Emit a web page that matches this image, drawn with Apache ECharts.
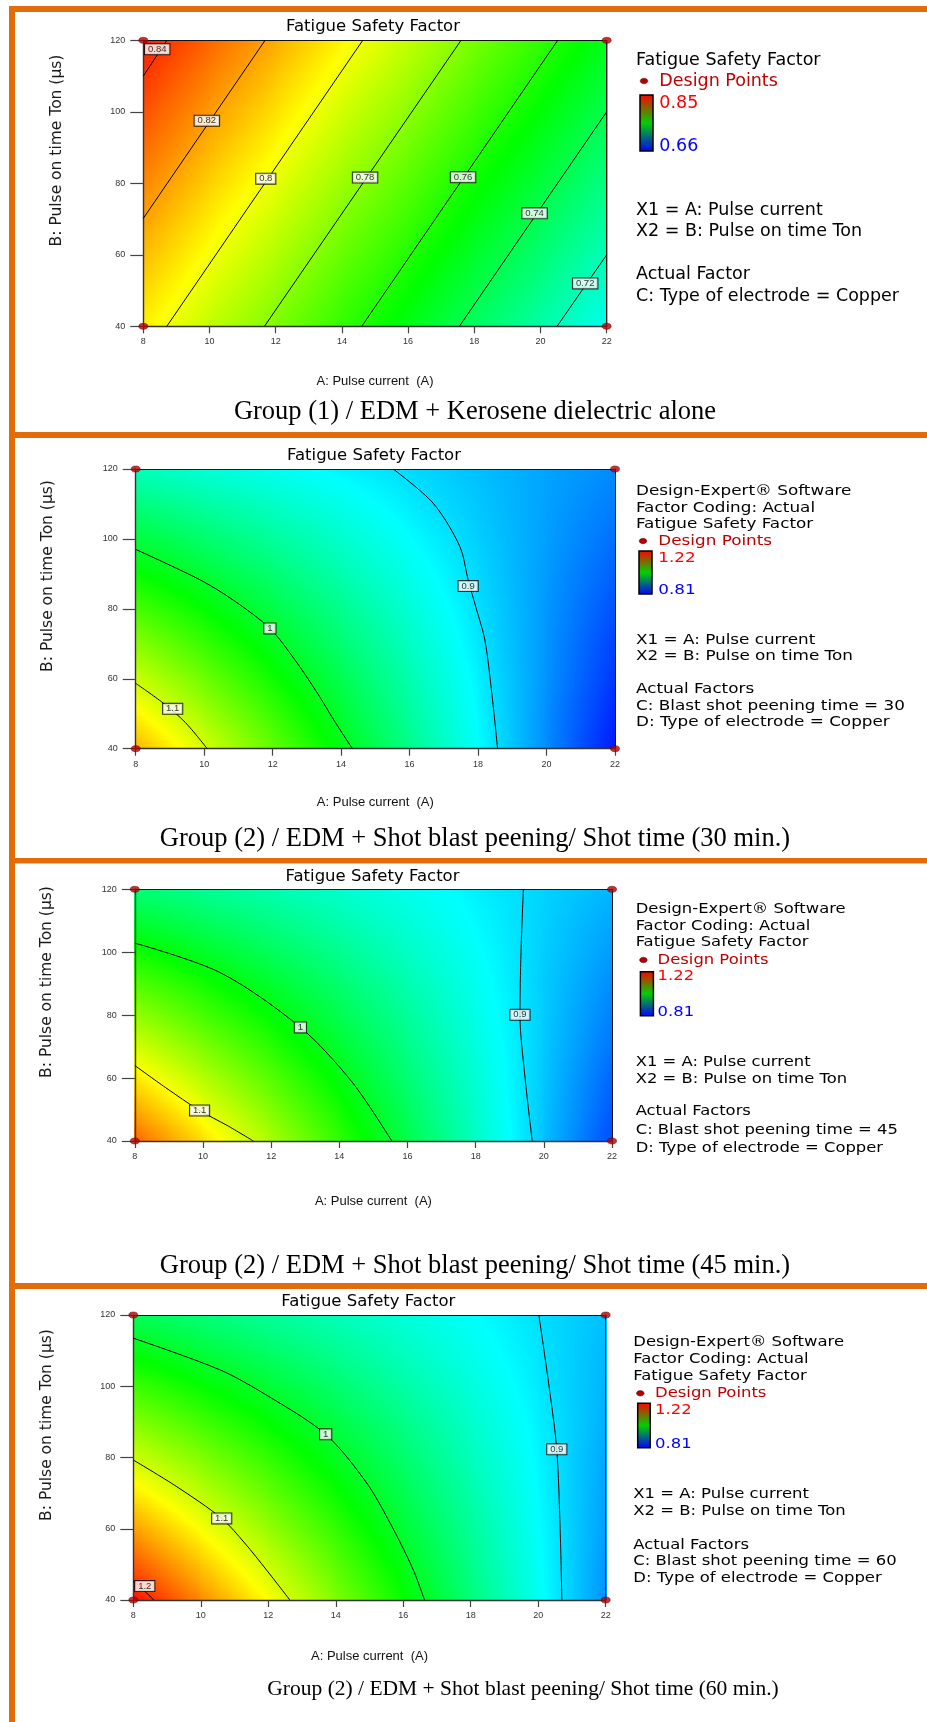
<!DOCTYPE html>
<html>
<head>
<meta charset="utf-8">
<title>Fatigue Safety Factor contour plots</title>
<script src="https://cdn.jsdelivr.net/npm/echarts@6.0.0/dist/echarts.min.js"></script>
<style>
  html, body { margin: 0; padding: 0; background: #ffffff; }
  #chart { width: 927px; height: 1722px; }
</style>
</head>
<body>
<div id="chart"></div>
<script>
// ---------------- data ----------------
// Grid nodes of the response surface
const pulseCurrent = [8, 10, 12, 14, 16, 18, 20, 22];          // A: Pulse current (A)
const pulseOnTime = [40, 50, 60, 70, 80, 90, 100, 110, 120];    // B: Pulse on time Ton (µs)

// Axis ticks
const currentTicks = [8, 10, 12, 14, 16, 18, 20, 22];
const onTimeTicks = [40, 60, 80, 100, 120];

// Design points (corners of the factor space)
const designPoints = [[8, 40], [8, 120], [22, 40], [22, 120]];

// Fatigue safety factor, one row per pulse-on time (40 µs first), one column per pulse current
const fsfKerosene = [
  [0.805, 0.791, 0.778, 0.764, 0.751, 0.737, 0.724, 0.710],
  [0.810, 0.796, 0.783, 0.769, 0.756, 0.742, 0.729, 0.715],
  [0.815, 0.801, 0.788, 0.774, 0.761, 0.747, 0.734, 0.720],
  [0.820, 0.806, 0.793, 0.779, 0.766, 0.752, 0.739, 0.725],
  [0.825, 0.811, 0.798, 0.784, 0.771, 0.757, 0.744, 0.730],
  [0.830, 0.816, 0.803, 0.789, 0.776, 0.762, 0.749, 0.735],
  [0.835, 0.821, 0.808, 0.794, 0.781, 0.767, 0.754, 0.740],
  [0.840, 0.826, 0.813, 0.799, 0.786, 0.772, 0.759, 0.745],
  [0.845, 0.831, 0.818, 0.804, 0.791, 0.777, 0.764, 0.750]
];
const fsfShot30 = [
  [1.149, 1.102, 1.055, 1.007, 0.960, 0.913, 0.866, 0.819],
  [1.123, 1.080, 1.038, 0.995, 0.952, 0.910, 0.867, 0.825],
  [1.097, 1.059, 1.021, 0.983, 0.945, 0.907, 0.869, 0.831],
  [1.071, 1.037, 1.004, 0.970, 0.937, 0.903, 0.870, 0.836],
  [1.044, 1.016, 0.987, 0.958, 0.929, 0.900, 0.871, 0.842],
  [1.018, 0.994, 0.970, 0.945, 0.921, 0.897, 0.872, 0.848],
  [0.992, 0.973, 0.953, 0.933, 0.913, 0.893, 0.874, 0.854],
  [0.966, 0.951, 0.936, 0.921, 0.905, 0.890, 0.875, 0.860],
  [0.940, 0.929, 0.919, 0.908, 0.898, 0.887, 0.876, 0.866]
];
const fsfShot45 = [
  [1.181, 1.132, 1.083, 1.034, 0.986, 0.937, 0.888, 0.839],
  [1.154, 1.110, 1.066, 1.022, 0.977, 0.933, 0.889, 0.845],
  [1.128, 1.088, 1.049, 1.009, 0.969, 0.930, 0.890, 0.850],
  [1.101, 1.066, 1.031, 0.996, 0.961, 0.926, 0.891, 0.856],
  [1.075, 1.044, 1.014, 0.983, 0.953, 0.922, 0.892, 0.861],
  [1.049, 1.023, 0.997, 0.971, 0.945, 0.919, 0.892, 0.866],
  [1.022, 1.001, 0.979, 0.958, 0.936, 0.915, 0.893, 0.872],
  [0.996, 0.979, 0.962, 0.945, 0.928, 0.911, 0.894, 0.877],
  [0.969, 0.957, 0.945, 0.932, 0.920, 0.907, 0.895, 0.883]
];
const fsfShot60 = [
  [1.215, 1.165, 1.116, 1.066, 1.017, 0.967, 0.917, 0.868],
  [1.186, 1.141, 1.096, 1.051, 1.006, 0.960, 0.915, 0.870],
  [1.157, 1.116, 1.075, 1.035, 0.994, 0.954, 0.913, 0.873],
  [1.127, 1.091, 1.055, 1.019, 0.983, 0.947, 0.911, 0.875],
  [1.098, 1.067, 1.035, 1.003, 0.972, 0.940, 0.909, 0.877],
  [1.069, 1.042, 1.015, 0.988, 0.961, 0.934, 0.907, 0.880],
  [1.040, 1.017, 0.995, 0.972, 0.949, 0.927, 0.904, 0.882],
  [1.010, 0.992, 0.974, 0.956, 0.938, 0.920, 0.902, 0.884],
  [0.981, 0.968, 0.954, 0.941, 0.927, 0.914, 0.900, 0.887]
];

// Colour-scale limits (observed response range)
const rangeKerosene = [0.66, 0.85];
const rangeShot = [0.81, 1.22];

// Contour lines: level, path in (A, B), label anchor in (A, B)
const contoursKerosene = [
  { level: '0.84', path: [[8, 110.0], [8.71, 120]], tag: [8.42, 117.5] },
  { level: '0.82', path: [[8, 70.2], [11.68, 120]], tag: [9.92, 97.5] },
  { level: '0.8', path: [[8.71, 40], [14.63, 120]], tag: [11.70, 81.3] },
  { level: '0.78', path: [[11.66, 40], [17.60, 120]], tag: [14.70, 81.6] },
  { level: '0.76', path: [[14.60, 40], [20.52, 120]], tag: [17.66, 81.7] },
  { level: '0.74', path: [[17.55, 40], [22, 100.0]], tag: [19.82, 71.6] },
  { level: '0.72', path: [[20.50, 40], [22, 60.0]], tag: [21.35, 52.0] }
];
const contoursShot30 = [
  { level: '1.1', path: [[8, 58.7], [8.81, 53.0], [9.45, 47.5], [10.09, 40]], tag: [9.08, 51.4] },
  { level: '1', path: [[8, 97.0], [9.88, 88.3], [10.85, 82.5], [11.92, 74.4], [12.65, 65.4], [13.30, 56.0], [13.80, 48.0], [14.33, 40]], tag: [11.92, 74.4] },
  { level: '0.9', path: [[15.52, 120], [16.69, 110.2], [17.47, 97.8], [17.71, 88.3], [17.95, 80.0], [18.20, 71.1], [18.40, 56.0], [18.57, 40]], tag: [17.71, 86.5] }
];
const contoursShot45 = [
  { level: '1.1', path: [[8, 64.0], [8.90, 57.0], [9.90, 49.7], [10.70, 45.0], [11.48, 40]], tag: [9.90, 49.7] },
  { level: '1', path: [[8, 102.9], [10.51, 93.5], [12.86, 76.1], [14.37, 58.8], [15.54, 40]], tag: [12.86, 76.1] },
  { level: '0.9', path: [[19.40, 120], [19.33, 100.0], [19.30, 80.0], [19.45, 60.0], [19.66, 40]], tag: [19.30, 80.1] }
];
const contoursShot60 = [
  { level: '1.2', path: [[8, 45.3], [8.30, 42.8], [8.61, 40]], tag: [8.34, 43.9] },
  { level: '1.1', path: [[8, 79.3], [9.29, 71.8], [10.62, 62.9], [11.30, 56.0], [11.95, 48.4], [12.64, 40]], tag: [10.62, 62.9] },
  { level: '1', path: [[8, 113.5], [10.57, 104.6], [11.95, 97.5], [13.70, 86.5], [14.92, 72.8], [15.70, 60.0], [16.30, 48.4], [16.63, 40]], tag: [13.70, 86.5] },
  { level: '0.9', path: [[20.02, 120], [20.35, 98.0], [20.55, 82.3], [20.65, 60.0], [20.70, 40]], tag: [20.55, 82.3] }
];

const shotTimes = [30, 45, 60];
const captions = [
  'Group (1) / EDM + Kerosene dielectric alone',
  'Group (2) / EDM + Shot blast peening/ Shot time (30 min.)',
  'Group (2) / EDM + Shot blast peening/ Shot time (45 min.)',
  'Group (2) / EDM + Shot blast peening/ Shot time (60 min.)'
];

const legendKerosene = {
  head: ['Fatigue Safety Factor'],
  factors: ['X1 = A: Pulse current', 'X2 = B: Pulse on time Ton', 'Actual Factor', 'C: Type of electrode = Copper']
};
function legendShot(t) {
  return {
    head: ['Design-Expert® Software', 'Factor Coding: Actual', 'Fatigue Safety Factor'],
    factors: ['X1 = A: Pulse current', 'X2 = B: Pulse on time Ton', 'Actual Factors',
      'C: Blast shot peening time = ' + t, 'D: Type of electrode = Copper']
  };
}

const panels = [
  { surface: fsfKerosene, range: rangeKerosene, contours: contoursKerosene, legend: legendKerosene },
  { surface: fsfShot30, range: rangeShot, contours: contoursShot30, legend: legendShot(shotTimes[0]) },
  { surface: fsfShot45, range: rangeShot, contours: contoursShot45, legend: legendShot(shotTimes[1]) },
  { surface: fsfShot60, range: rangeShot, contours: contoursShot60, legend: legendShot(shotTimes[2]) }
];

// ---------------- page layout (pixels) ----------------
const layout = [
  { grid: [143.3, 40.3, 463.4, 286.0], title: [373, 27], xName: 381, yName: [57, 150.5], caption: [475, 412.5, 26.5] },
  { grid: [135.7, 469.0, 479.3, 279.7], title: [374, 456], xName: 802, yName: [48, 576], caption: [475, 839, 26.5] },
  { grid: [134.8, 889.3, 477.2, 251.7], title: [372.5, 876.7], xName: 1201.5, yName: [47, 982], caption: [475, 1266, 26.5] },
  { grid: [133.3, 1315.0, 472.4, 285.0], title: [368.3, 1302], xName: 1656, yName: [46.7, 1425], caption: [523, 1689.5, 21.5] }
];
const legendLayout = [
  { x: 636, scale: 1, size: 17.5, head: [60], dot: [644, 81], dpX: 659.3, bar: [640, 95, 13, 56], hiY: 103, loY: 146, factors: [210.5, 231.7, 274, 296.7] },
  { x: 636, scale: 1.2, size: 14, head: [491, 508, 524], dot: [643, 541], dpX: 658.3, bar: [639, 551, 13, 43], hiY: 558, loY: 590, factors: [640, 656, 689, 706, 722] },
  { x: 635.7, scale: 1.17, size: 14, head: [909.3, 926, 942.7], dot: [643.4, 960], dpX: 657.6, bar: [640.4, 971.7, 13, 44], hiY: 976.7, loY: 1012.3, factors: [1062, 1079, 1111, 1130, 1148] },
  { x: 633.3, scale: 1.175, size: 14, head: [1342.7, 1359, 1376], dot: [640.3, 1393.3], dpX: 655, bar: [637.7, 1403.3, 12.5, 44.4], hiY: 1410, loY: 1444, factors: [1494, 1511, 1545, 1561, 1578.3] }
];
const frameOrange = '#E36C0A';

// ---------------- colour ramp ----------------
const rampColors = [[0, 0, 255], [0, 255, 255], [0, 255, 0], [255, 255, 0], [255, 0, 0]];
function rampAt(t) {
  t = Math.max(0, Math.min(1, t));
  const s = t * 4, k = Math.min(3, Math.floor(s)), f = s - k;
  const a = rampColors[k], b = rampColors[k + 1];
  return 'rgb(' + a.map((c, i) => Math.round(c + (b[i] - c) * f)).join(',') + ')';
}
// horizontal gradient for one strip whose value runs linearly from vl to vr
function stripFill(vl, vr, range) {
  const lo = range[0], hi = range[1];
  const tl = (vl - lo) / (hi - lo), tr = (vr - lo) / (hi - lo);
  const stops = [{ offset: 0, color: rampAt(tl) }];
  [0, 0.25, 0.5, 0.75, 1].forEach(q => {
    if ((q - tl) * (q - tr) < 0) stops.push({ offset: (q - tl) / (tr - tl), color: rampAt(q) });
  });
  stops.push({ offset: 1, color: rampAt(tr) });
  stops.sort((a, b) => a.offset - b.offset);
  return new echarts.graphic.LinearGradient(0, 0, 1, 0, stops);
}

// ---------------- series builders ----------------
function surfaceSeries(k) {
  const grid = panels[k].surface, range = panels[k].range;
  const nx = pulseCurrent.length, ny = pulseOnTime.length;
  const data = [];
  for (let j = 0; j < ny; j++) {
    for (let i = 0; i < nx; i++) data.push([pulseCurrent[i], pulseOnTime[j], grid[j][i]]);
  }
  return {
    type: 'custom', xAxisIndex: k, yAxisIndex: k, z: 1, silent: true, clip: true,
    data: data, encode: { x: 0, y: 1 },
    renderItem: function (params, api) {
      const i = params.dataIndex % nx, j = Math.floor(params.dataIndex / nx);
      if (i >= nx - 1 || j >= ny - 1) return null;
      const bl = api.coord([pulseCurrent[i], pulseOnTime[j]]);
      const tr = api.coord([pulseCurrent[i + 1], pulseOnTime[j + 1]]);
      const x0 = Math.floor(bl[0]), x1 = Math.ceil(tr[0]) + 1;
      const span = bl[1] - tr[1];
      const n = Math.max(1, Math.round(span / 2.5));
      const v00 = grid[j][i], v10 = grid[j][i + 1], v01 = grid[j + 1][i], v11 = grid[j + 1][i + 1];
      const children = [];
      for (let s = 0; s < n; s++) {
        const f = (s + 0.5) / n;
        const yb = Math.round(bl[1] - s * span / n);
        const ya = Math.round(bl[1] - (s + 1) * span / n);
        children.push({
          type: 'rect',
          shape: { x: x0, y: ya, width: x1 - x0, height: yb - ya + 1 },
          style: { fill: stripFill(v00 + (v01 - v00) * f, v10 + (v11 - v10) * f, range) }
        });
      }
      return { type: 'group', children: children };
    }
  };
}

function contourSeries(k) {
  return panels[k].contours.map(c => ({
    type: 'line', xAxisIndex: k, yAxisIndex: k, z: 10, silent: true, clip: true,
    data: c.path, symbol: 'none', smooth: c.path.length > 2 ? 0.3 : false,
    lineStyle: { color: '#000', width: 1 }, animation: false
  }));
}

function contourLabelSeries(k) {
  return {
    type: 'scatter', xAxisIndex: k, yAxisIndex: k, z: 12, silent: true, clip: false,
    data: panels[k].contours.map(c => [c.tag[0], c.tag[1], c.level]),
    symbolSize: 1, itemStyle: { color: 'rgba(0,0,0,0)' },
    label: {
      show: true, position: 'inside', formatter: p => p.value[2],
      fontFamily: 'Liberation Sans', fontSize: 9.5, color: '#000', lineHeight: 10,
      backgroundColor: '#fff', borderColor: '#000', borderWidth: 1, padding: [0, 3, 0, 3]
    }
  };
}

function designPointSeries(k) {
  return {
    type: 'scatter', xAxisIndex: k, yAxisIndex: k, z: 20, silent: true, clip: false,
    data: designPoints, symbol: 'circle', symbolSize: [9, 6],
    itemStyle: { color: '#B40000', borderColor: '#5a0000', borderWidth: 0.6 }
  };
}

// ---------------- graphics: frame, legends, captions ----------------
function textEl(x, y, text, font, color, align, scale) {
  return {
    type: 'text', x: x, y: y, scaleX: scale || 1, silent: true, z: 50,
    style: { text: text, x: 0, y: 0, font: font, fill: color || '#000', align: align || 'left', verticalAlign: 'middle' }
  };
}

function legendGraphics(k) {
  const L = legendLayout[k], p = panels[k];
  const font = L.size + 'px "DejaVu Sans"';
  const out = [];
  p.legend.head.forEach((t, i) => out.push(textEl(L.x, L.head[i], t, font, '#000', 'left', L.scale)));
  out.push({ type: 'ellipse', silent: true, z: 50, shape: { cx: L.dot[0], cy: L.dot[1], rx: 3.8, ry: 2.7 }, style: { fill: '#B40000', stroke: '#5a0000', lineWidth: 0.5 } });
  out.push(textEl(L.dpX, L.dot[1], 'Design Points', font, '#C00000', 'left', L.scale));
  out.push({
    type: 'rect', silent: true, z: 50,
    shape: { x: L.bar[0], y: L.bar[1], width: L.bar[2], height: L.bar[3] },
    style: {
      fill: new echarts.graphic.LinearGradient(0, 0, 0, 1, [
        { offset: 0, color: '#ff0000' }, { offset: 0.5, color: '#00d000' }, { offset: 1, color: '#0000ff' }
      ]),
      stroke: '#000', lineWidth: 1.5
    }
  });
  out.push(textEl(L.dpX, L.hiY, String(p.range[1]), font, '#FF0000', 'left', L.scale));
  out.push(textEl(L.dpX, L.loY, String(p.range[0]), font, '#0000FF', 'left', L.scale));
  p.legend.factors.forEach((t, i) => out.push(textEl(L.x, L.factors[i], t, font, '#000', 'left', L.scale)));
  return out;
}

function frameGraphics() {
  const bars = [[9, 6, 918, 6], [9, 6, 6, 1716], [9, 432, 918, 6], [9, 858, 918, 5.5], [9, 1283, 918, 6]];
  return bars.map(b => ({ type: 'rect', silent: true, z: 40, shape: { x: b[0], y: b[1], width: b[2], height: b[3] }, style: { fill: frameOrange } }));
}

// ---------------- option ----------------
const grids = [], xAxes = [], yAxes = [], series = [], titles = [], graphics = frameGraphics();
const axisLineStyle = { color: '#333', width: 1.4 };

panels.forEach((p, k) => {
  const L = layout[k];
  grids.push({ left: L.grid[0], top: L.grid[1], width: L.grid[2], height: L.grid[3] });
  titles.push({
    text: 'Fatigue Safety Factor', left: L.title[0], top: L.title[1] - 10, textAlign: 'center', padding: 0,
    textStyle: { fontFamily: 'DejaVu Sans', fontSize: 16.5, fontWeight: 'normal', color: '#000', lineHeight: 20 }
  });
  const plotBottom = L.grid[1] + L.grid[3];
  xAxes[k] = {
    gridIndex: k, type: 'value', position: 'bottom',
    min: currentTicks[0], max: currentTicks[currentTicks.length - 1], interval: currentTicks[1] - currentTicks[0],
    name: 'A: Pulse current  (A)', nameLocation: 'middle', nameGap: L.xName - plotBottom - 6.5,
    nameTextStyle: { fontFamily: 'Liberation Sans', fontSize: 13, color: '#111' },
    axisLine: { show: true, onZero: false, lineStyle: axisLineStyle },
    axisTick: { show: true, length: 7, lineStyle: { color: '#444', width: 1.2 } },
    axisLabel: { fontFamily: 'Liberation Sans', fontSize: 9, color: '#333', margin: 11 },
    splitLine: { show: false }, z: 5
  };
  xAxes[4 + k] = {
    gridIndex: k, type: 'value', position: 'top', min: currentTicks[0], max: currentTicks[currentTicks.length - 1],
    axisLine: { show: true, onZero: false, lineStyle: { color: '#111', width: 1 } },
    axisTick: { show: false }, axisLabel: { show: false }, splitLine: { show: false }, z: 5
  };
  const plotMidY = L.grid[1] + L.grid[3] / 2;
  yAxes[k] = {
    gridIndex: k, type: 'value', position: 'left',
    min: onTimeTicks[0], max: onTimeTicks[onTimeTicks.length - 1], interval: onTimeTicks[1] - onTimeTicks[0],
    name: 'B: Pulse on time Ton (µs)', nameLocation: 'middle', nameGap: L.grid[0] - L.yName[0] - 8,
    nameTextStyle: { fontFamily: 'DejaVu Sans', fontSize: 15.5, color: '#1a1a1a', padding: [0, 0, 0, 2 * (plotMidY - L.yName[1])] },
    axisLine: { show: true, onZero: false, lineStyle: axisLineStyle },
    axisTick: { show: true, length: 13, lineStyle: { color: '#444', width: 1.2 } },
    axisLabel: { fontFamily: 'Liberation Sans', fontSize: 9, color: '#333', margin: 18 },
    splitLine: { show: false }, z: 5
  };
  yAxes[4 + k] = {
    gridIndex: k, type: 'value', position: 'right', min: onTimeTicks[0], max: onTimeTicks[onTimeTicks.length - 1],
    axisLine: { show: true, onZero: false, lineStyle: { color: '#111', width: 1 } },
    axisTick: { show: false }, axisLabel: { show: false }, splitLine: { show: false }, z: 5
  };
  series.push(surfaceSeries(k));
  contourSeries(k).forEach(s => series.push(s));
  series.push(contourLabelSeries(k));
  series.push(designPointSeries(k));
  legendGraphics(k).forEach(g => graphics.push(g));
  graphics.push(textEl(L.caption[0], L.caption[1], captions[k], L.caption[2] + 'px "Liberation Serif"', '#000', 'center', 1));
});

const chart = echarts.init(document.getElementById('chart'), null, { renderer: 'canvas', width: 927, height: 1722 });
chart.setOption({
  animation: false,
  backgroundColor: '#ffffff',
  textStyle: { fontFamily: 'Liberation Sans' },
  title: titles,
  grid: grids,
  xAxis: xAxes,
  yAxis: yAxes,
  series: series,
  graphic: { elements: graphics }
});
</script>
</body>
</html>
